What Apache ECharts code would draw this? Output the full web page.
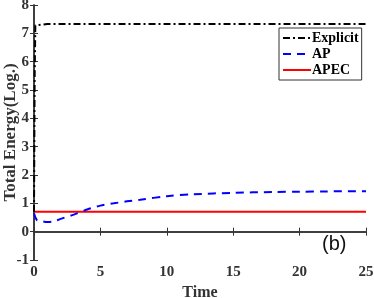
<!DOCTYPE html>
<html><head><meta charset="utf-8">
<script src="https://cdn.jsdelivr.net/npm/echarts@6/dist/echarts.min.js"></script>
<style>html,body{margin:0;padding:0;background:#fff}#c{width:374px;height:298px}</style>
</head><body><div id="c"></div>
<script>
var explicitT = [0, 0.05, 0.1, 0.2, 1, 5, 10, 15, 20, 25];
var explicitV = [0.69, 5.5, 7.28, 7.33, 7.33, 7.33, 7.33, 7.33, 7.33, 7.33];
var apT = [0, 0.2, 0.5, 1, 1.5, 2, 3, 4, 5, 6, 7, 8, 10, 12, 15, 18, 20, 22, 25];
var apV = [0.65, 0.42, 0.38, 0.34, 0.36, 0.45, 0.6, 0.78, 0.92, 1.0, 1.07, 1.13, 1.25, 1.32, 1.37, 1.4, 1.41, 1.42, 1.43];
var apecT = [0, 25];
var apecV = [0.7, 0.7];
var xTicks = [0, 5, 10, 15, 20, 25];
var yTicks = [-1, 0, 1, 2, 3, 4, 5, 6, 7, 8];

function pairs(t, v) { return t.map(function (x, i) { return [x, v[i]]; }); }
var serif = '"Liberation Serif", "Times New Roman", serif';
var frame = { lineStyle: { color: '#333', width: 1.5 } };
var tick = { inside: true, length: 4, lineStyle: { color: '#333', width: 1 } };
var ax = {
  type: 'value', splitLine: { show: false }, axisLine: frame, axisTick: tick
};
var chart = echarts.init(document.getElementById('c'));
chart.setOption({
  animation: false,
  backgroundColor: '#fff',
  grid: { left: 34, right: 8, top: 5, bottom: 38, containLabel: false, outerBoundsMode: 'none' },
  xAxis: [
    Object.assign({}, ax, {
      min: xTicks[0], max: xTicks[xTicks.length - 1], interval: 5, position: 'bottom',
      name: 'Time', nameLocation: 'middle', nameGap: 23,
      nameTextStyle: { fontFamily: serif, fontWeight: 'bold', fontSize: 16, color: '#333' },
      axisLabel: { fontFamily: serif, fontWeight: 'bold', fontSize: 15, color: '#333', margin: 5 }
    }),
    Object.assign({}, ax, {
      min: xTicks[0], max: xTicks[xTicks.length - 1], interval: 5, position: 'top',
      axisLabel: { show: false }
    })
  ],
  yAxis: [
    Object.assign({}, ax, {
      min: yTicks[0], max: yTicks[yTicks.length - 1], interval: 1, position: 'left',
      name: 'Total Energy(Log.)', nameLocation: 'middle', nameGap: 15, nameMoveOverlap: false,
      nameTextStyle: { fontFamily: serif, fontWeight: 'bold', fontSize: 17, color: '#333' },
      axisLabel: { fontFamily: serif, fontWeight: 'bold', fontSize: 15, color: '#333', margin: 5 }
    }),
    Object.assign({}, ax, {
      min: yTicks[0], max: yTicks[yTicks.length - 1], interval: 1, position: 'right',
      axisLabel: { show: false }
    })
  ],
  legend: {
    orient: 'vertical', left: 279, top: 28, width: 80,
    backgroundColor: '#fff', borderColor: '#333', borderWidth: 1, borderRadius: 0,
    padding: [3, 3, 3, 3], itemGap: 2, itemWidth: 28, itemHeight: 14,
    itemStyle: { opacity: 0 },
    textStyle: { fontFamily: serif, fontWeight: 'bold', fontSize: 14, color: '#000', padding: [0, 0, 0, -4] },
    data: ['Explicit', 'AP', 'APEC']
  },
  graphic: [{
    type: 'text', left: 322, top: 234,
    style: { text: '(b)', font: '20px "Liberation Sans", Arial, sans-serif', fill: '#111' }
  }],
  series: [
    { name: 'Explicit', type: 'line', data: pairs(explicitT, explicitV), showSymbol: false, symbol: 'none',
      lineStyle: { color: '#000', width: 2, type: [7, 3, 2, 3] }, itemStyle: { color: '#000' }, z: 3 },
    { name: 'AP', type: 'line', data: pairs(apT, apV), showSymbol: false, symbol: 'none', smooth: 0.3,
      lineStyle: { color: '#0000ff', width: 2, type: [8, 6] }, itemStyle: { color: '#0000ff' }, z: 2 },
    { name: 'APEC', type: 'line', data: pairs(apecT, apecV), showSymbol: false, symbol: 'none',
      lineStyle: { color: '#ff0000', width: 2 }, itemStyle: { color: '#ff0000' }, z: 1 }
  ]
});
</script></body></html>
